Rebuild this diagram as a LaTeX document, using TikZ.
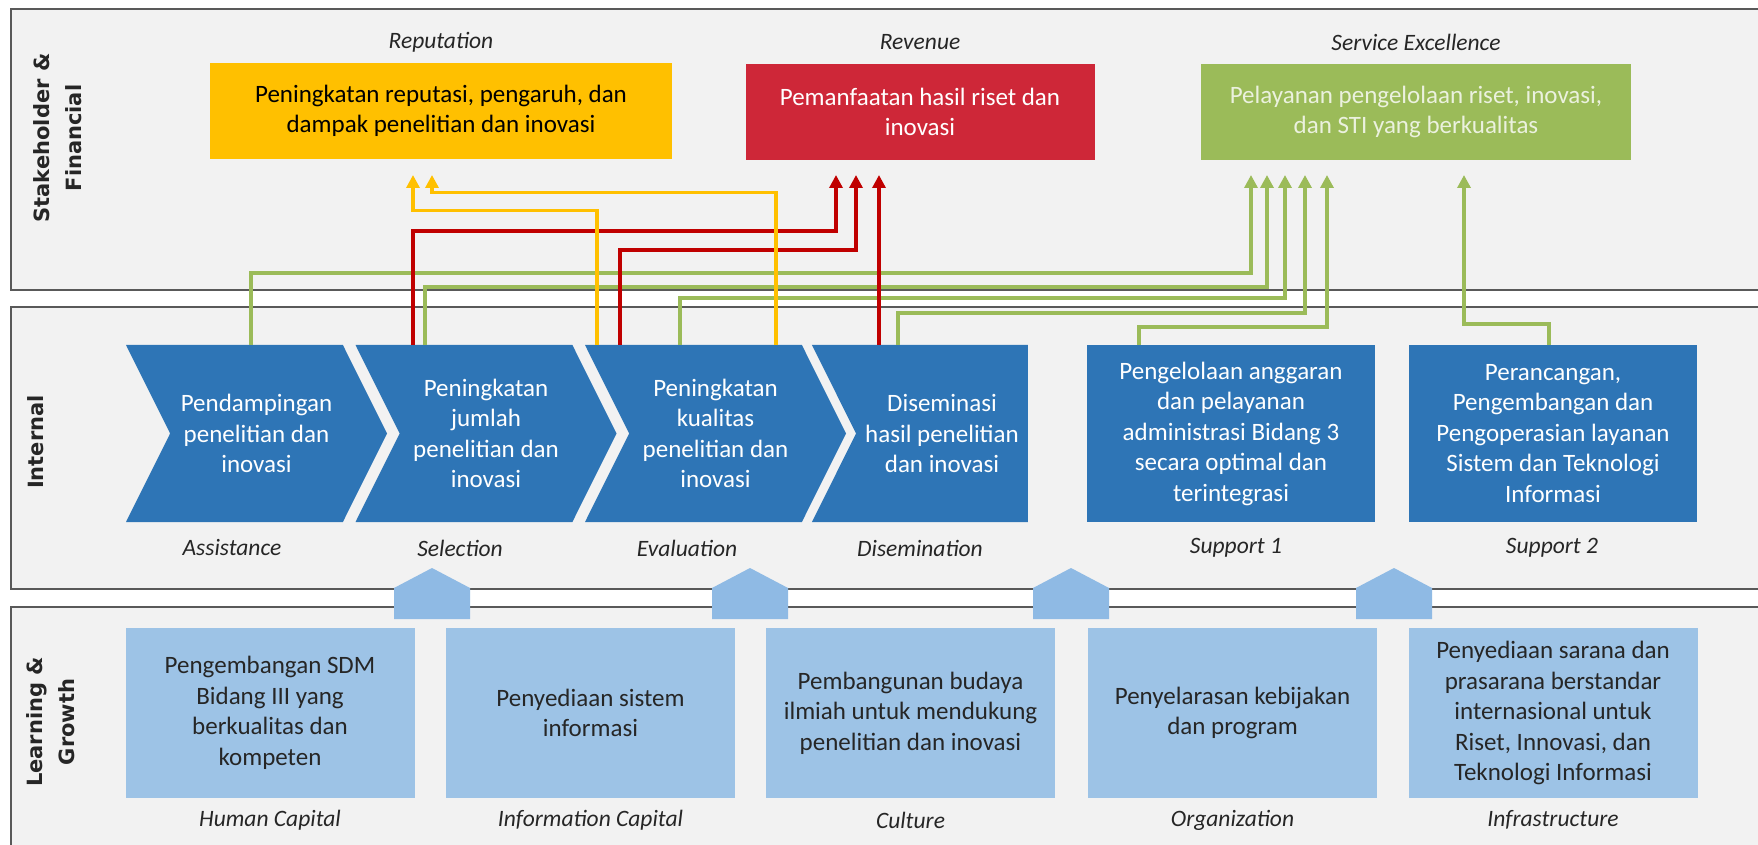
\documentclass[tikz,border=0pt]{standalone}
\usepackage{fontspec}
\setmainfont{Carlito}
\newfontfamily\headfont{DejaVu Sans}
\usetikzlibrary{shapes.symbols,arrows.meta}
\definecolor{panelbg}{RGB}{242,242,242}
\definecolor{panelline}{RGB}{89,89,89}
\definecolor{chevblue}{RGB}{46,117,182}
\definecolor{softblue}{RGB}{157,195,230}
\definecolor{houseblue}{RGB}{143,186,228}
\definecolor{repyellow}{RGB}{255,192,0}
\definecolor{revred}{RGB}{206,39,56}
\definecolor{arrowred}{RGB}{192,0,0}
\definecolor{svcgreen}{RGB}{155,187,89}
\definecolor{svctext}{RGB}{235,241,222}
\definecolor{ink}{RGB}{38,38,38}
\tikzset{
  panel/.style={fill=panelbg,draw=panelline,line width=1.2pt},
  perspective/.style={rotate=90,align=center,text=ink,font=\headfont\bfseries\fontsize{10.5}{16}\selectfont},
  caption/.style={text=ink,font=\itshape\fontsize{11.75}{14}\selectfont},
  goal/.style={minimum height=48pt,inner sep=0pt,align=center,font=\fontsize{12.5}{15.25}\selectfont},
  process/.style={shape=signal,signal from=west,signal to=east,signal pointer angle=127,fill=chevblue,text=white,minimum width=130.5pt,minimum height=88.5pt,inner sep=0pt,align=center,font=\fontsize{12.5}{15.25}\selectfont},
  support/.style={fill=chevblue,text=white,minimum width=144pt,minimum height=88.5pt,inner sep=0pt,align=center,font=\fontsize{12.5}{15.25}\selectfont},
  enabler/.style={fill=softblue,text=ink,minimum width=144.5pt,minimum height=85pt,inner sep=0pt,align=center,font=\fontsize{12.5}{15.25}\selectfont},
  torep/.style={draw=repyellow,line width=1.8pt,-{Triangle[length=6.5pt,width=6.5pt]}},
  torev/.style={draw=arrowred,line width=2pt,-{Triangle[length=6.5pt,width=6.5pt]}},
  tosvc/.style={draw=svcgreen,line width=2pt,-{Triangle[length=6.5pt,width=6.5pt]}}
}
\begin{document}
\begin{tikzpicture}[x=0.5pt,y=-0.5pt]
  \useasboundingbox (0,0) rectangle (1758,845);
  \clip (0,0) rectangle (1758,845);
  \fill[white] (0,0) rectangle (1758,845);
  \draw[panel] (11,9) rectangle (1790,290);
  \draw[panel] (11,307) rectangle (1790,589);
  \draw[panel] (11,607) rectangle (1790,880);
  \node[perspective] (sf) at (58,138) {Stakeholder \&\\Financial};
  \node[perspective] (in) at (36,442) {Internal};
  \node[perspective] (lg) at (51,722) {Learning \&\\Growth};

  \node[caption] (repcap) at (441,42) {Reputation};
  \node[caption] (revcap) at (920,42) {Revenue};
  \node[caption] (svccap) at (1416,42) {Service Excellence};
  \node[goal,fill=repyellow,text=black,minimum width=231pt] (rep) at (441,111) {Peningkatan reputasi, pengaruh, dan\\dampak penelitian dan inovasi};
  \node[goal,fill=revred,text=white,minimum width=174.5pt] (rev) at (920,112) {Pemanfaatan hasil riset dan\\inovasi};
  \node[goal,fill=svcgreen,text=svctext,minimum width=215pt] (svc) at (1416,112) {Pelayanan pengelolaan riset, inovasi,\\dan STI yang berkualitas};

  \node[process] (a1) at (256.5,433.5) {Pendampingan\\penelitian dan\\inovasi};
  \node[process] (a2) at (486,433.5) {Peningkatan\\jumlah\\penelitian dan\\inovasi};
  \node[process] (a3) at (715.5,433.5) {Peningkatan\\kualitas\\penelitian dan\\inovasi};
  \node[process,signal to=nowhere,minimum width=108pt] (a4) at (942,433.5) {Diseminasi\\hasil penelitian\\dan inovasi};
  \node[support] (s1) at (1231,433.5) {Pengelolaan anggaran\\dan pelayanan\\administrasi Bidang 3\\secara optimal dan\\terintegrasi};
  \node[support] (s2) at (1553,433.5) {Perancangan,\\Pengembangan dan\\Pengoperasian layanan\\Sistem dan Teknologi\\Informasi};
  \node[caption] (a1cap) at (232,548) {Assistance};
  \node[caption] (a2cap) at (460,548) {Selection};
  \node[caption] (a3cap) at (687,548) {Evaluation};
  \node[caption] (a4cap) at (920,548) {Disemination};
  \node[caption] (s1cap) at (1236,548) {Support 1};
  \node[caption] (s2cap) at (1552,548) {Support 2};

  \fill[houseblue] (394,619) -- (394,588) -- (432,568) -- (470,588) -- (470,619) -- cycle;
  \fill[houseblue] (712,619) -- (712,588) -- (750,568) -- (788,588) -- (788,619) -- cycle;
  \fill[houseblue] (1033,619) -- (1033,588) -- (1071,568) -- (1109,588) -- (1109,619) -- cycle;
  \fill[houseblue] (1356,619) -- (1356,588) -- (1394,568) -- (1432,588) -- (1432,619) -- cycle;

  \node[enabler] (e1) at (270,713) {Pengembangan SDM\\Bidang III yang\\berkualitas dan\\kompeten};
  \node[enabler] (e2) at (590.5,713) {Penyediaan sistem\\informasi};
  \node[enabler] (e3) at (910.5,713) {Pembangunan budaya\\ilmiah untuk mendukung\\penelitian dan inovasi};
  \node[enabler] (e4) at (1232.5,713) {Penyelarasan kebijakan\\dan program};
  \node[enabler] (e5) at (1553,713) {Penyediaan sarana dan\\prasarana berstandar\\internasional untuk\\Riset, Innovasi, dan\\Teknologi Informasi};
  \node[caption] (e1cap) at (270,820) {Human Capital};
  \node[caption] (e2cap) at (590.5,820) {Information Capital};
  \node[caption] (e3cap) at (910.5,820) {Culture};
  \node[caption] (e4cap) at (1232.5,820) {Organization};
  \node[caption] (e5cap) at (1553,820) {Infrastructure};

  \coordinate (rep1) at (413,175);
  \coordinate (rep2) at (432,175);
  \coordinate (rev1) at (836,175);
  \coordinate (rev2) at (856,175);
  \coordinate (rev3) at (879,175);
  \coordinate (svc1) at (1251,175);
  \coordinate (svc2) at (1267,175);
  \coordinate (svc3) at (1285,175);
  \coordinate (svc4) at (1305,175);
  \coordinate (svc5) at (1327,175);
  \coordinate (svc6) at (1464,175);
  \draw[tosvc] ([xshift=-2.75pt]a1.north) -- ++(0,-72) -| (svc1);
  \draw[tosvc] ([xshift=-30.5pt]a2.north) -- ++(0,-58) -| (svc2);
  \draw[tosvc] ([xshift=-17.75pt]a3.north) -- ++(0,-47) -| (svc3);
  \draw[tosvc] ([xshift=-22pt]a4.north) -- ++(0,-32) -| (svc4);
  \draw[tosvc] ([xshift=-46pt]s1.north) -- ++(0,-18) -| (svc5);
  \draw[tosvc] ([xshift=-2pt]s2.north) -- ++(0,-21) -| (svc6);
  \draw[torev] ([xshift=-36.5pt]a2.north) -- ++(0,-114) -| (rev1);
  \draw[torev] ([xshift=-47.75pt]a3.north) -- ++(0,-95) -| (rev2);
  \draw[torev] ([xshift=-31.5pt]a4.north) -- (rev3);
  \draw[torep] ([xshift=-59.25pt]a3.north) -- ++(0,-134) -| (rep1);
  \draw[torep] ([xshift=30.25pt]a3.north) -- ++(0,-152) -| (rep2);
\end{tikzpicture}
\end{document}
